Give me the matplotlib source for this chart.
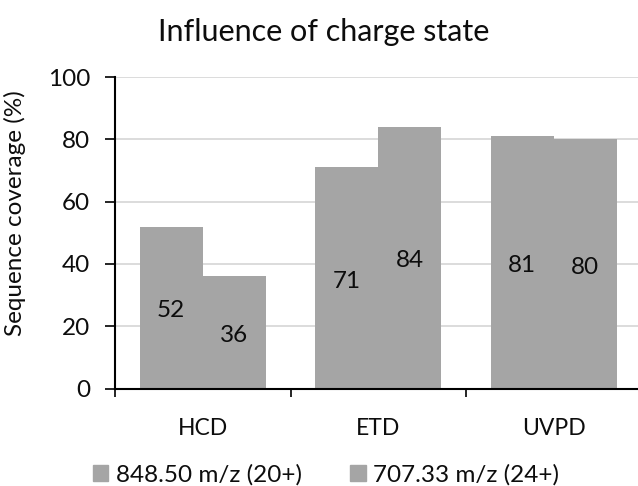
import matplotlib.pyplot as plt
import matplotlib.patches as mpatches
import numpy as np

plt.rcParams['font.family'] = ['Lato', 'DejaVu Sans']

methods = ['HCD', 'ETD', 'UVPD']
series_names = ['848.50 m/z (20+)', '707.33 m/z (24+)']
coverage_20 = [52, 71, 81]
coverage_24 = [36, 84, 80]

bar_color = '#A5A5A5'
grid_color = '#D9D9D9'
text_color = '#0D0D0D'

W, H = 638, 486
fig = plt.figure(figsize=(W / 100, H / 100), dpi=100)
ax = fig.add_axes([115 / W, (H - 388.5) / H, (638 - 115) / W, (388.5 - 77) / H])

x = np.arange(len(methods))
width = 0.36
for offset, vals in [(-width / 2, coverage_20), (width / 2, coverage_24)]:
    bars = ax.bar(x + offset, vals, width, color=bar_color, zorder=2)
    for b, v in zip(bars, vals):
        ax.text(b.get_x() + b.get_width() / 2, v / 2 - 1, str(v),
                ha='center', va='center', fontsize=17.5, color=text_color, zorder=3)

ax.set_xlim(-0.5, 2.48)
ax.set_ylim(0, 100)
ax.set_yticks(range(0, 101, 20))
ax.yaxis.grid(True, color=grid_color, linewidth=1.3, zorder=0)
ax.set_axisbelow(True)

# category boundaries get the tick marks, names sit between them
ax.set_xticks([-0.5, 0.5, 1.5], minor=False)
ax.set_xticklabels([])
ax.set_xticks(x, minor=True)
ax.set_xticklabels(methods, minor=True, fontsize=16.5, color=text_color)
ax.tick_params(axis='x', which='minor', length=0, pad=21)
ax.tick_params(axis='x', which='major', length=6, width=1.2, direction='out')
ax.tick_params(axis='y', length=7, width=1.2, direction='out', labelsize=17.5,
               labelcolor=text_color, pad=11)

for s in ['top', 'right']:
    ax.spines[s].set_visible(False)
for s in ['left', 'bottom']:
    ax.spines[s].set_linewidth(1.5)
    ax.spines[s].set_color('black')

ax.set_ylabel('Sequence coverage (%)', fontsize=17.5, color=text_color)
ax.yaxis.set_label_coords(26 / W, (H - 213) / H, transform=fig.transFigure)

fig.text(324 / W, (H - 32) / H, 'Influence of charge state', ha='center', va='center',
         fontsize=22, color=text_color)

handles = [mpatches.Patch(color=bar_color, label=n) for n in series_names]
leg = fig.legend(handles=handles, loc='center', bbox_to_anchor=(326 / W, (H - 475) / H),
                 ncol=2, frameon=False, fontsize=17.5, handlelength=0.65, handleheight=0.65,
                 handletextpad=0.3, columnspacing=2.0)
for t in leg.get_texts():
    t.set_color(text_color)

fig.savefig('out.png', dpi=100)
